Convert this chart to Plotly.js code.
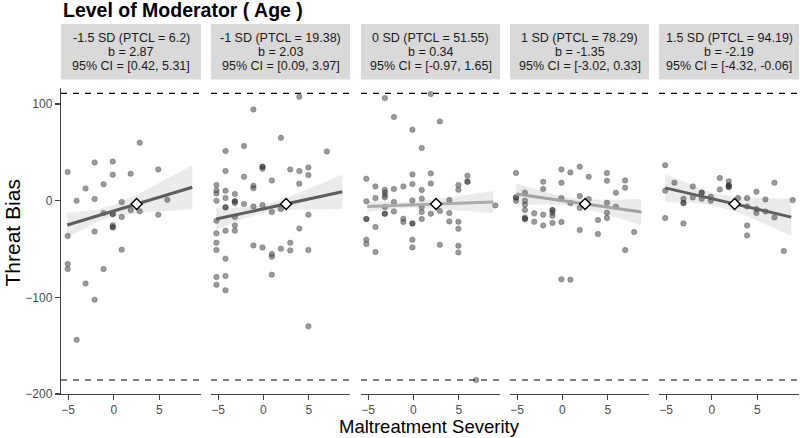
<!DOCTYPE html>
<html><head><meta charset="utf-8">
<script src="https://cdn.plot.ly/plotly-3.0.1.min.js"></script>
<style>html,body{margin:0;padding:0;background:#fff}#chart{width:800px;height:438px}</style>
</head><body><div id="chart"></div>
<script>
// ---------- DATA ----------
const chartTitle = 'Level of Moderator ( Age )';
const xTitle = 'Maltreatment Severity';
const yTitle = 'Threat Bias';
const stripSD = ['-1.5 SD (PTCL = 6.2)', '-1 SD (PTCL = 19.38)', '0 SD (PTCL = 51.55)', '1 SD (PTCL = 78.29)', '1.5 SD (PTCL = 94.19)'];
const stripB = ['b = 2.87', 'b = 2.03', 'b = 0.34', 'b = -1.35', 'b = -2.19'];
const stripCI = ['95% CI = [0.42, 5.31]', '95% CI = [0.09, 3.97]', '95% CI = [-0.97, 1.65]', '95% CI = [-3.02, 0.33]', '95% CI = [-4.32, -0.06]'];
const xTicks = [-5, 0, 5];
const yTicks = [-200, -100, 0, 100];
const cutoffs = [111, -185.5];

// scatter points per panel
const ptX1 = [-5.05,-4.07,-3.09,-2.1,-2.1,-1.12,-1.12,-0.11,-0.11,-0.11,-0.11,-0.11,-0.11,-0.11,0.87,0.87,0.87,1.85,1.85,2.84,2.84,4.87,4.87,5.86,-2.1,-5.05,-5.05,-5.05,-3.09,-1.12,-2.1,-4.07];
const ptY1 = [29.7,0,12.7,39.6,1.7,16.9,-12.8,40.6,26.9,-13.8,-13.8,-25.5,-27.6,-27.6,-1.4,-16.9,-50.7,27.9,-9.7,60,-11,32.4,-14.5,1,-32,-36.5,-65.5,-70.7,-85.8,-70.7,-102.4,-144];

const ptX2 = [3.96,-1.1,1.93,-2.14,-4.18,7.0,-0.1,-0.1,-0.1,-4.18,2.96,3.96,4.96,4.96,-2.14,0.93,3.96,-5.18,-1.1,-1.1,-5.18,-4.18,-5.18,-3.15,-4.18,-3.15,-3.15,-3.15,-5.18,-2.14,-1.1,-0.1,-4.18,-4.18,1.93,0.93,-5.18,-3.15,4.96,-3.15,-3.15,-4.18,3.96,-5.18,-5.18,-5.18,-1.1,-0.1,1.93,2.96,2.96,4.96,0.93,0.93,-4.18,-5.18,-5.18,-4.18,-4.18,0.93,4.96];
const ptY2 = [107.5,94.4,65.1,56.5,51.3,51,35.1,35.1,33,30.6,32.4,30.6,34.4,26.5,24.8,21,17.5,16.2,15.5,13,10.6,10.3,7.5,6.9,2.7,-0.7,-0.7,-2.5,-0.05,-3.5,-5.9,-4.5,-6.9,-6.9,-8.7,-11.8,-20.7,-16.9,-14.5,-25.6,-31,-31,-28.7,-33.8,-43.5,-51,-46.3,-48.3,-49.7,-43.5,-51.4,-51,-55.2,-58,-60,-79,-86.9,-77.9,-92.7,-76.5,-130];

const ptX3 = [-3.15,1.92,-2.15,2.92,-0.11,0.92,-5.19,-0.11,1.92,5.96,5.96,5.96,-4.19,-2.15,-1.11,-0.11,1.92,4.96,4.96,-3.15,-3.15,-3.15,-3.15,-4.19,0.92,0.92,-5.19,-2.15,-0.11,3.96,-3.15,-2.15,0.92,0.92,1.92,2.92,-3.15,-3.15,3.96,-5.19,-5.19,-1.11,-1.11,-0.11,-0.11,0.92,3.96,4.96,4.96,-4.19,9.03,-5.19,-5.19,-0.11,-0.11,2.92,4.96,4.96,-4.19,6.92];
const ptY3 = [106.2,110.3,86.5,82,73.4,54.4,22.7,27.2,28.2,25.8,19.6,19.6,14.8,12,14.8,17.2,17.9,16.2,11.3,11.3,8.6,5.8,3.4,2.7,11,2,-0.7,-1.4,0.3,0.6,-6.6,-11.1,-6.6,-11.8,-13.5,-10.7,-13.5,-13.5,-12.8,-19,-19,-18.7,-22.1,-23.5,-23.5,-19,-21.4,-21.8,-29,-27.3,-4.9,-40.4,-44.9,-40.4,-48.3,-45.6,-46.6,-53.5,-53.1,-185.5];

const ptX4 = [-5.12,1.91,-0.11,0.88,4.91,2.9,-2.12,-0.11,4.91,6.92,6.92,-2.12,5.9,-4.13,-5.12,-5.12,-5.12,-4.13,-4.13,-0.11,0.88,1.91,1.91,2.9,4.91,5.9,-4.13,-1.1,-1.1,-1.1,-1.1,-3.11,-2.12,4.91,-4.13,-4.13,-4.13,4.91,-3.11,-2.12,-1.1,-0.11,3.92,1.91,3.92,7.91,6.92,-0.11,0.88];
const ptY4 = [28.6,35.1,32.4,29.3,28.6,24.8,19.6,18.6,20.6,21,13.4,12,8.3,8.3,3.4,3.4,-0.05,-0.05,-4.2,2.7,-2.5,4.8,-7.6,1.7,-2.1,-6.2,-9.7,-9.7,-9.7,-12.5,-15.6,-13.1,-14.5,-12.5,-17.3,-19,-19,-18,-21.8,-25.6,-23.1,-22.1,-20,-30.4,-34.5,-32.5,-51.1,-81.4,-81.7];

const ptX5 = [-5.11,-4.09,-5.11,-2.08,0.88,1.86,1.86,1.86,1.86,1.86,0.88,-1.1,-1.1,4.89,6.86,-3.1,-3.1,-3.1,-2.08,-1.1,-0.11,-0.11,2.88,3.87,5.87,8.87,3.87,4.89,4.89,5.87,6.86,-5.11,-3.1,3.87,3.87,7.89];
const ptY5 = [36.8,18.6,10.3,14.8,23.4,20,15.8,15.8,14.1,14.1,11.7,8.3,8.3,9.3,18.6,2,-2.5,-2.5,3.4,2,4.1,-0.05,2.7,2.7,1.3,0.6,-5.9,-8.7,-12.8,-11.1,-17.3,-18,-23.5,-25.6,-35.9,-52.1];

// fitted simple slopes (endpoints)
const fitX0 = [-5.1, -5.2, -5.1, -5.1, -5.1];
const fitX1 = [8.6, 8.7, 8.8, 8.7, 8.7];
const fitY0 = [-25.2, -19.0, -6.1, 6.9, 13.3];
const fitY1 = [13.9, 9.2, -1.3, -11.8, -17.0];

// confidence ribbons
const ciX1 = [-5.1,-3.5,-2,0,2.5,5,6.5,8.6];
const ciLo1 = [-37.7,-29.9,-23.2,-16.7,-12.9,-10.9,-9.9,-9.0];
const ciHi1 = [-12.7,-11.3,-9.4,-4.5,6.1,18.5,26.1,36.8];
const ciX2 = [-5.2,-3.5,-2,0,2.5,5,6.5,8.7];
const ciLo2 = [-30.1,-23.6,-18.1,-12.4,-9.7,-9.0,-8.9,-8.6];
const ciHi2 = [-7.9,-7.6,-6.9,-4.6,2.9,12.4,18.3,27.0];
const ciX3 = [-5.1,-3.5,-2,0,2.5,5,6.5,8.8];
const ciLo3 = [-11.6,-9.5,-8.1,-7.5,-8.3,-9.9,-10.9,-12.7];
const ciHi3 = [-0.6,-1.3,-1.7,-1.1,1.5,4.7,6.9,10.1];
const ciX4 = [-5.1,-3.5,-2,0,2.5,5,6.5,8.7];
const ciLo4 = [-4.1,-3.8,-3.7,-4.3,-8.1,-14.6,-18.9,-25.3];
const ciHi4 = [17.9,13.2,9.1,4.3,1.3,1.0,1.3,1.7];
const ciX5 = [-5.1,-3.5,-2,0,2.5,5,6.5,8.7];
const ciLo5 = [-1.4,-1.8,-2.3,-4.4,-10.9,-20.6,-26.9,-36.2];
const ciHi5 = [28.0,21.2,15.3,8.6,4.1,2.8,2.5,2.2];

// moderator reference point
const diamondX = [2.5, 2.5, 2.5, 2.5, 2.5];
const diamondY = [-3.4, -3.4, -3.4, -3.4, -3.4];

// ---------- BUILD ----------
const ptX = [ptX1, ptX2, ptX3, ptX4, ptX5];
const ptY = [ptY1, ptY2, ptY3, ptY4, ptY5];
const ciX = [ciX1, ciX2, ciX3, ciX4, ciX5];
const ciLo = [ciLo1, ciLo2, ciLo3, ciLo4, ciLo5];
const ciHi = [ciHi1, ciHi2, ciHi3, ciHi4, ciHi5];
const lineColors = ['#5e5e5e', '#5e5e5e', '#ababab', '#a3a3a3', '#5e5e5e'];

const W = 800, H = 438, ML = 61, MR = 1, MT = 88, MB = 44;
const PW = W - ML - MR, PH = H - MT - MB;
const panelPx = [[61, 201], [211, 350], [361, 500], [510, 649], [659, 799]];
const domains = panelPx.map(p => [(p[0] - ML) / PW, (p[1] - ML) / PW]);
const py2paper = py => (H - MB - py) / PH;
const FONT = 'Liberation Sans, Arial, Helvetica, sans-serif';

const traces = [];
const shapes = [];
const annotations = [];
const layout = {
  width: W, height: H,
  margin: {l: ML, r: MR, t: MT, b: MB, pad: 0},
  paper_bgcolor: '#fff', plot_bgcolor: '#fff',
  showlegend: false,
  font: {family: FONT, color: '#1a1a1a'},
  yaxis: {
    range: [-200, 116.6], tickvals: yTicks, ticks: 'outside', ticklen: 5, tickwidth: 1.1,
    tickcolor: '#444', showline: true, linecolor: '#444', linewidth: 1.2,
    showgrid: false, zeroline: false, tickfont: {size: 12, color: '#4d4d4d', family: FONT},
    anchor: 'x'
  }
};

for (let i = 0; i < 5; i++) {
  const ax = i === 0 ? 'x' : 'x' + (i + 1);
  const axKey = i === 0 ? 'xaxis' : 'xaxis' + (i + 1);
  layout[axKey] = {
    domain: domains[i], range: [-5.78, 9.55], tickvals: xTicks, ticks: 'outside', ticklen: 4.5,
    tickwidth: 1.1, tickcolor: '#444', showline: true, linecolor: '#444', linewidth: 1.2,
    showgrid: false, zeroline: false, anchor: 'y',
    tickfont: {size: 12, color: '#4d4d4d', family: FONT}
  };
  // ribbon
  traces.push({
    type: 'scatter', mode: 'lines', xaxis: ax, yaxis: 'y',
    x: ciX[i].concat(ciX[i].slice().reverse()),
    y: ciHi[i].concat(ciLo[i].slice().reverse()),
    fill: 'toself', fillcolor: 'rgba(228,228,228,0.75)', line: {width: 0}, hoverinfo: 'skip'
  });
  // points
  traces.push({
    type: 'scatter', mode: 'markers', xaxis: ax, yaxis: 'y',
    x: ptX[i], y: ptY[i],
    marker: {size: 5.5, color: 'rgba(55,55,55,0.5)', line: {width: 0.6, color: 'rgba(40,40,40,0.45)'}}
  });
  // fitted line
  traces.push({
    type: 'scatter', mode: 'lines', xaxis: ax, yaxis: 'y',
    x: [fitX0[i], fitX1[i]], y: [fitY0[i], fitY1[i]],
    line: {color: lineColors[i], width: 3}
  });
  // diamond
  traces.push({
    type: 'scatter', mode: 'markers', xaxis: ax, yaxis: 'y',
    x: [diamondX[i]], y: [diamondY[i]],
    marker: {symbol: 'diamond', size: 8.5, color: '#fff', line: {color: '#000', width: 1.4}}
  });
  // dashed cutoffs
  cutoffs.forEach(c => shapes.push({
    type: 'line', xref: ax + ' domain', x0: 0, x1: 1, yref: 'y', y0: c, y1: c,
    line: {color: '#000', width: 1.2, dash: '6px,6px'}, layer: 'above'
  }));
  // strip box
  shapes.push({
    type: 'rect', xref: 'paper', yref: 'paper',
    x0: domains[i][0], x1: domains[i][1], y0: py2paper(79.5), y1: py2paper(24),
    fillcolor: '#d9d9d9', line: {width: 0}, layer: 'below'
  });
  const cx = (domains[i][0] + domains[i][1]) / 2;
  [[stripSD[i], 38], [stripB[i], 52], [stripCI[i], 66]].forEach(([t, py]) => annotations.push({
    text: t, xref: 'paper', yref: 'paper', x: cx, y: py2paper(py), xanchor: 'center', yanchor: 'middle',
    showarrow: false, font: {size: 12.5, color: '#1a1a1a', family: FONT}
  }));
}

annotations.push({
  text: chartTitle, xref: 'paper', yref: 'paper', x: 0, y: py2paper(10), xanchor: 'left', yanchor: 'middle',
  showarrow: false, font: {size: 19.5, color: '#000', family: FONT, weight: 'bold'}
});
annotations.push({
  text: yTitle, xref: 'paper', yref: 'paper', x: (11.5 - ML) / PW, y: py2paper(233), xanchor: 'center', yanchor: 'middle',
  textangle: -90, showarrow: false, font: {size: 21, color: '#000', family: FONT}
});
annotations.push({
  text: xTitle, xref: 'paper', yref: 'paper', x: (429 - ML) / PW, y: py2paper(426.5), xanchor: 'center', yanchor: 'middle',
  showarrow: false, font: {size: 18.5, color: '#000', family: FONT}
});

layout.shapes = shapes;
layout.annotations = annotations;

Plotly.newPlot('chart', traces, layout, {staticPlot: true, displayModeBar: false});
</script>
</body></html>
